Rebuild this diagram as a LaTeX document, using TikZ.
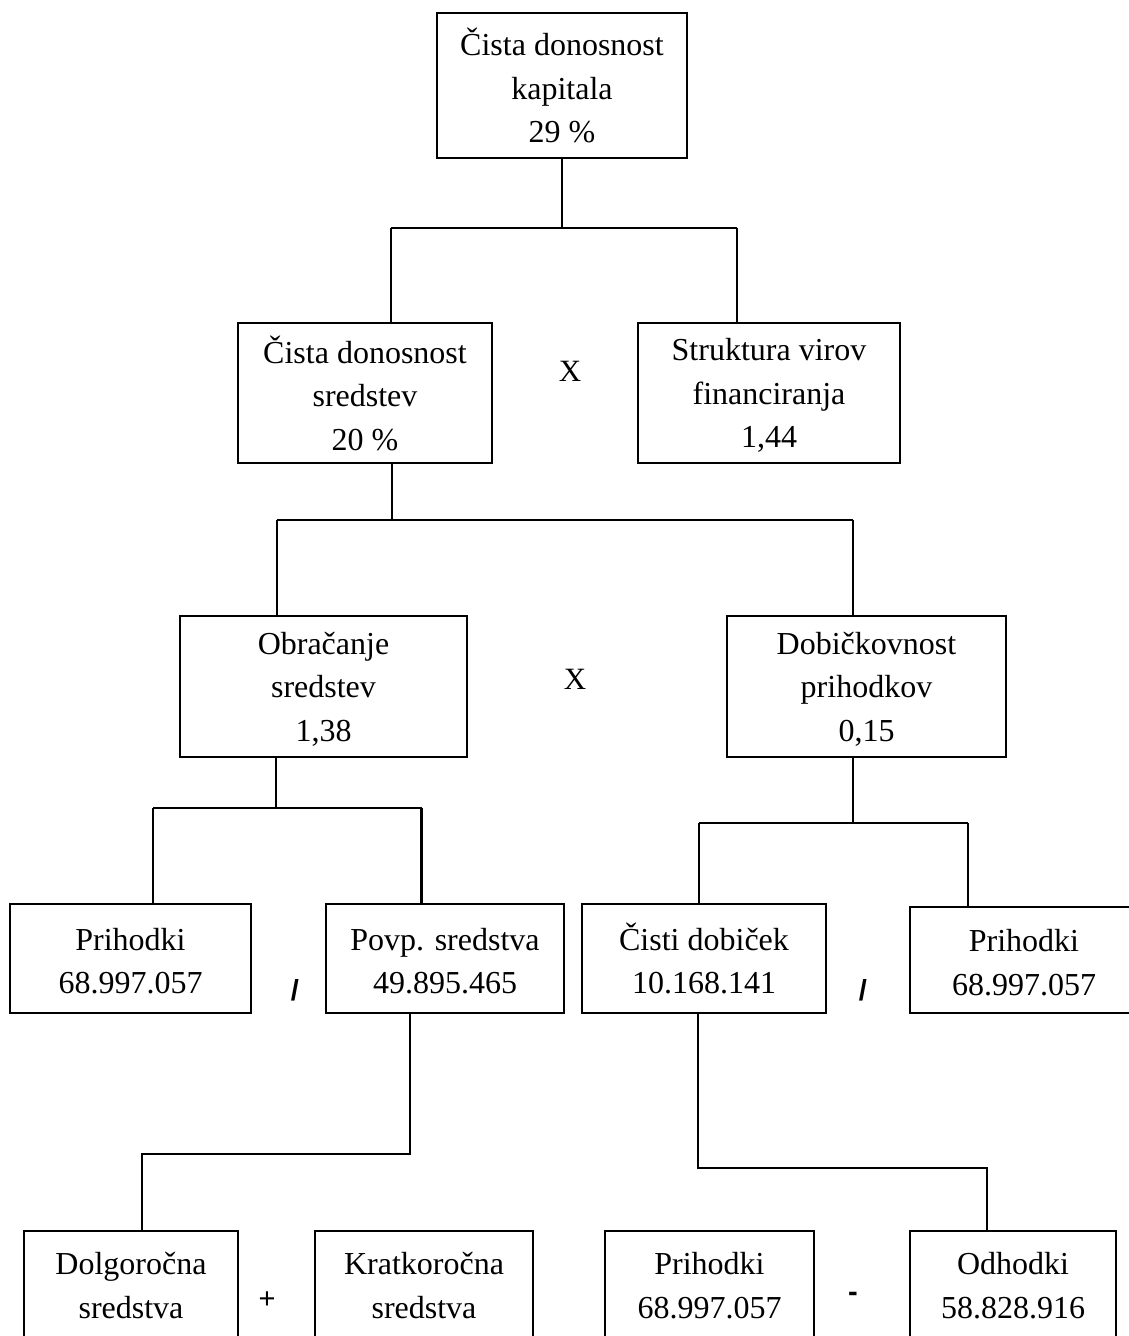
\documentclass[tikz,border=0pt]{standalone}
\usepackage{fontspec}
\setmainfont{Liberation Serif}
\newfontfamily\opfont{Liberation Sans}
\newcommand{\hc}{\vphantom{Č}}
\begin{document}
\begin{tikzpicture}[x=1pt,y=-1pt,
  box/.style={draw=black, line width=2.2pt, inner sep=0pt, align=center,
    font=\fontsize{32}{43.5}\selectfont},
  conn/.style={draw=black, line width=2.2pt},
  opx/.style={inner sep=0pt, font=\fontsize{31}{34}\selectfont},
  ops/.style={inner sep=0pt, font=\opfont\fontsize{29}{32}\selectfont}]
\useasboundingbox (0,0) rectangle (1129,1336);
\fill[white] (0,0) rectangle (1129,1336);

% level 1
\node[box, minimum width=250pt, minimum height=145pt] (top) at (562,85.5)
  {Čista donosnost\\kapitala\\29 \%};
% level 2
\node[box, minimum width=254pt, minimum height=140pt] (L2) at (365,393)
  {Čista donosnost\\sredstev\\20 \%};
\node[box, minimum width=262pt, minimum height=140pt] (R2) at (769,393)
  {\hc Struktura virov\\financiranja\\1,44};
\node[opx] (x1) at (570,371) {X};
% level 3
\node[box, minimum width=287pt, minimum height=141pt] (L3) at (323.5,686.5)
  {\hc Obračanje\\sredstev\\1,38};
\node[box, minimum width=279pt, minimum height=141pt] (R3) at (866.5,686.5)
  {\hc Dobičkovnost\\prihodkov\\0,15};
\node[opx] (x2) at (575,679) {X};
% level 4
\node[box, minimum width=241pt, minimum height=109pt] (A4) at (130.5,958.5)
  {\hc Prihodki\\68.997.057};
\node[box, minimum width=238pt, minimum height=109pt] (B4) at (445,958.5)
  {\hc Povp. sredstva\\49.895.465};
\node[box, minimum width=244pt, minimum height=109pt] (C4) at (704,958.5)
  {Čisti dobiček\\10.168.141};
\node[box, minimum width=228pt, minimum height=106pt] (D4) at (1024,960)
  {\hc Prihodki\\68.997.057};
\node[ops, font=\opfont\bfseries\fontsize{29}{32}\selectfont] (d1) at (295,990) {/};
\node[ops, font=\opfont\bfseries\fontsize{29}{32}\selectfont] (d2) at (863,990) {/};
% level 5
\node[box, minimum width=214pt, minimum height=109pt] (A5) at (131,1285.5)
  {Dolgoročna\\sredstva};
\node[box, minimum width=218pt, minimum height=109pt] (B5) at (424,1285.5)
  {Kratkoročna\\sredstva};
\node[box, minimum width=209pt, minimum height=109pt] (C5) at (709.5,1285.5)
  {Prihodki\\68.997.057};
\node[box, minimum width=206pt, minimum height=109pt] (D5) at (1013,1285.5)
  {Odhodki\\58.828.916};
\node[ops] (p1) at (267,1300) {+};
\node[ops, font=\opfont\bfseries\fontsize{29}{32}\selectfont] (m1) at (853,1297) {-};

% connectors level 1 -> 2
\coordinate (b1L) at (391,228);
\coordinate (b1R) at (737,228);
\draw[conn] (top.south) -- (top.south |- b1L);
\draw[conn] (b1L) -- (b1R);
\draw[conn] (b1L) -- (b1L |- L2.north);
\draw[conn] (b1R) -- (b1R |- R2.north);
% level 2 -> 3
\coordinate (s2) at (392,520);
\coordinate (b2L) at (277,520);
\coordinate (b2R) at (853,520);
\draw[conn] (s2 |- L2.south) -- (s2);
\draw[conn] (b2L) -- (b2R);
\draw[conn] (b2L) -- (b2L |- L3.north);
\draw[conn] (b2R) -- (b2R |- R3.north);
% level 3L -> 4
\coordinate (s3L) at (276,808);
\coordinate (b3La) at (153,808);
\coordinate (b3Lb) at (421.5,808);
\draw[conn] (s3L |- L3.south) -- (s3L);
\draw[conn] (b3La) -- (b3Lb);
\draw[conn] (b3La) -- (b3La |- A4.north);
\draw[conn] (b3Lb) -- (b3Lb |- B4.north);
% level 3R -> 4
\coordinate (s3R) at (853,823);
\coordinate (b3Ra) at (699,823);
\coordinate (b3Rb) at (968,823);
\draw[conn] (s3R |- R3.south) -- (s3R);
\draw[conn] (b3Ra) -- (b3Rb);
\draw[conn] (b3Ra) -- (b3Ra |- C4.north);
\draw[conn] (b3Rb) -- (b3Rb |- D4.north);
% level 4 -> 5
\coordinate (k1) at (410,1154);
\coordinate (k2) at (142,1154);
\draw[conn] (k1 |- B4.south) -- (k1) -- (k2) -- (k2 |- A5.north);
\coordinate (k3) at (698,1168);
\coordinate (k4) at (987,1168);
\draw[conn] (k3 |- C4.south) -- (k3) -- (k4) -- (k4 |- D5.north);
\end{tikzpicture}
\end{document}
